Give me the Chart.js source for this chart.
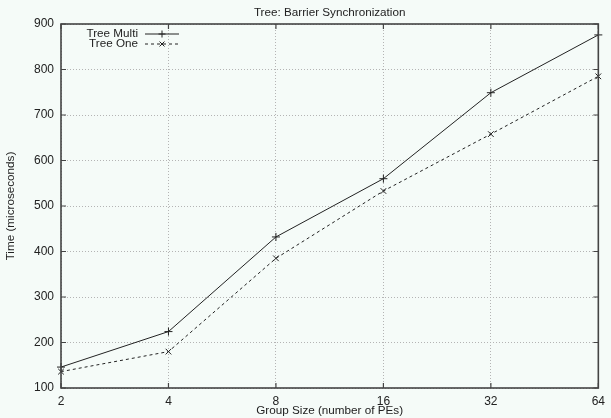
<!DOCTYPE html>
<html>
<head>
<meta charset="utf-8">
<script src="https://cdn.jsdelivr.net/npm/chart.js@4/dist/chart.umd.min.js"></script>
<style>
  html, body { margin: 0; padding: 0; background: #f5fbf8; }
  #wrap { width: 611px; height: 418px; position: relative; }
</style>
</head>
<body>
<div id="wrap"><canvas id="c"></canvas></div>
<script>
// group sizes (log2 spaced) and barrier times in microseconds
const groupSizes = ['2', '4', '8', '16', '32', '64'];
const treeMulti = [146, 224, 432, 560, 749, 876];
const treeOne = [136, 180, 385, 533, 658, 785];
const yTicks = [100, 200, 300, 400, 500, 600, 700, 800, 900];

const FONT = 'Liberation Sans, Arial, Helvetica, sans-serif';
const INK = '#222';

// frame, inward tick marks, title, axis titles and legend, gnuplot style
const gnuFrame = {
  id: 'gnuFrame',
  afterDatasetsDraw(chart) {
    const { ctx, chartArea: { left, right, top, bottom } } = chart;
    const xs = chart.scales.x, ys = chart.scales.y;
    ctx.save();
    ctx.strokeStyle = '#444';
    ctx.lineWidth = 1.6;
    ctx.strokeRect(left, top, right - left, bottom - top);
    ctx.lineWidth = 1.2;
    ctx.beginPath();
    groupSizes.forEach((_, i) => {
      const x = xs.getPixelForValue(i);
      ctx.moveTo(x, bottom); ctx.lineTo(x, bottom - 5);
      ctx.moveTo(x, top); ctx.lineTo(x, top + 5);
    });
    yTicks.forEach(v => {
      const y = ys.getPixelForValue(v);
      ctx.moveTo(left, y); ctx.lineTo(left + 5, y);
      ctx.moveTo(right, y); ctx.lineTo(right - 5, y);
    });
    ctx.stroke();

    ctx.fillStyle = INK;
    ctx.font = '11.7px ' + FONT;
    ctx.textAlign = 'center';
    ctx.textBaseline = 'middle';
    ctx.fillText('Tree: Barrier Synchronization', (left + right) / 2, 13);
    ctx.fillText('Group Size (number of PEs)', (left + right) / 2, 411);
    ctx.save();
    ctx.translate(11, (top + bottom) / 2);
    ctx.rotate(-Math.PI / 2);
    ctx.fillText('Time (microseconds)', 0, 0);
    ctx.restore();

    // key
    const rows = [
      { label: 'Tree Multi', dash: [], style: 'cross', y: 34 },
      { label: 'Tree One', dash: [3, 3], style: 'crossRot', y: 44 },
    ];
    rows.forEach(r => {
      ctx.textAlign = 'right';
      ctx.fillStyle = INK;
      ctx.fillText(r.label, 138, r.y);
      ctx.strokeStyle = INK;
      ctx.lineWidth = 1;
      ctx.setLineDash(r.dash);
      ctx.beginPath();
      ctx.moveTo(145, r.y); ctx.lineTo(179, r.y);
      ctx.stroke();
      ctx.setLineDash([]);
      Chart.helpers.drawPoint(ctx, { pointStyle: r.style, radius: 3.5, borderWidth: 1 }, 162, r.y);
    });
    ctx.restore();
  }
};

new Chart(document.getElementById('c'), {
  type: 'line',
  data: {
    labels: groupSizes,
    datasets: [
      { label: 'Tree Multi', data: treeMulti, borderColor: INK, borderWidth: 1,
        pointStyle: 'cross', pointRadius: 4, pointBorderColor: INK, pointBorderWidth: 1, tension: 0 },
      { label: 'Tree One', data: treeOne, borderColor: INK, borderWidth: 1, borderDash: [3, 3],
        pointStyle: 'crossRot', pointRadius: 4, pointBorderColor: INK, pointBorderWidth: 1, tension: 0 },
    ]
  },
  options: {
    responsive: true, maintainAspectRatio: false, animation: false,
    layout: { padding: { top: 24, right: 9, left: 0, bottom: 0 } },
    plugins: { legend: { display: false }, tooltip: { enabled: false } },
    scales: {
      x: {
        offset: false,
        grid: { color: '#b4b4b4', lineWidth: 1, drawTicks: false },
        border: { display: false, dash: [1, 2] },
        ticks: { color: INK, font: { size: 12, family: FONT }, padding: 6, maxRotation: 0 },
        afterFit(s) { s.height = 30; }
      },
      y: {
        min: 100, max: 900,
        grid: { color: '#b4b4b4', lineWidth: 1, drawTicks: false },
        border: { display: false, dash: [1, 2] },
        ticks: { color: INK, font: { size: 12, family: FONT }, padding: 7, stepSize: 100 },
        afterFit(s) { s.width = 61; }
      }
    }
  },
  plugins: [gnuFrame]
});
</script>
</body>
</html>
